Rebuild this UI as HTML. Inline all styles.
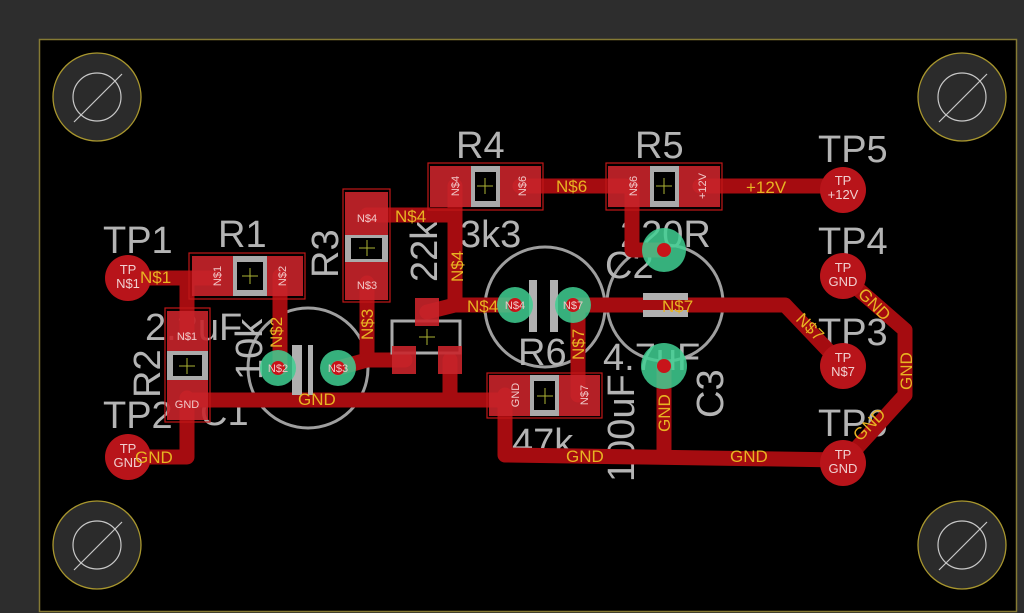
<!DOCTYPE html>
<html><head><meta charset="utf-8"><style>
html,body{margin:0;padding:0;background:#2d2d2d;width:1024px;height:613px;overflow:hidden}
svg{display:block}
.s{fill:#b4b4b4;font-family:"Liberation Sans",sans-serif;font-size:38px}
.n{fill:#e8b422;font-family:"Liberation Sans",sans-serif;font-size:17px}
.p{fill:#f0c8c8;font-family:"Liberation Sans",sans-serif;font-size:11px;text-anchor:middle}
.tp{fill:#f0d0d0;font-family:"Liberation Sans",sans-serif;font-size:13px;text-anchor:middle}
.tr{stroke:#a50c10;fill:none;stroke-linejoin:round;stroke-linecap:round}
.pad{fill:#c8242a;opacity:0.9}
.ol{fill:none;stroke:#c01818;stroke-width:1.2}
.ring{fill:#3fcf92;opacity:0.85}
</style></head><body>
<svg width="1024" height="613" viewBox="0 0 1024 613">
<rect x="0" y="0" width="1024" height="613" fill="#2d2d2d"/>
<rect x="39.5" y="39.5" width="977" height="572" fill="#000" stroke="#857a34" stroke-width="1.5"/>
<g stroke="#a8962e" stroke-width="1.3" fill="#2b2b2b">
<circle cx="97" cy="97" r="44"/><circle cx="962" cy="97" r="44"/><circle cx="97" cy="545" r="44"/><circle cx="962" cy="545" r="44"/></g>
<g stroke="#c8c8c8" stroke-width="1.2" fill="none">
<circle cx="97" cy="97" r="24"/><line x1="74" y1="122" x2="122" y2="74"/>
<circle cx="962" cy="97" r="24"/><line x1="939" y1="122" x2="987" y2="74"/>
<circle cx="97" cy="545" r="24"/><line x1="74" y1="570" x2="122" y2="522"/>
<circle cx="962" cy="545" r="24"/><line x1="939" y1="570" x2="987" y2="522"/>
</g>
<g stroke="#b0b0b0" stroke-width="3" fill="none" opacity="0.9">
<circle cx="308" cy="368" r="60"/><circle cx="545" cy="307" r="60"/><circle cx="665" cy="303" r="58"/>
</g>
<g class="s">
<text x="103" y="253">TP1</text><text x="218" y="247">R1</text>
<text x="103" y="428">TP2</text><text x="145" y="340">2.2uF</text>
<text x="200" y="425">C1</text>
<text transform="translate(338,278) rotate(-90)">R3</text>
<text transform="translate(437,282) rotate(-90)">22k</text>
<text transform="translate(160,398) rotate(-90)">R2</text>
<text transform="translate(262,380) rotate(-90)">10k</text>
<text x="456" y="158">R4</text><text x="460" y="247">3k3</text>
<text x="635" y="158">R5</text><text x="620" y="247">220R</text>
<text x="605" y="278">C2</text>
<text x="818" y="162">TP5</text><text x="818" y="254">TP4</text>
<text x="818" y="345">TP3</text><text x="818" y="436">TP6</text>
<text x="518" y="365">R6</text><text x="512" y="455">47k</text>
<text x="603" y="370">4.7uF</text>
<text transform="translate(634,482) rotate(-90)">100uF</text>
<text transform="translate(723,418) rotate(-90)">C3</text>
</g>
<g class="tr" stroke-width="15">
<polyline points="128,278 215,278"/>
<polyline points="187,278 187,330"/>
<polyline points="187,398 187,457 128,457"/>
<polyline points="187,400 505,400"/>
<polyline points="280,276 280,368"/>
<polyline points="367,283 367,360 338,368"/>
<polyline points="367,360 405,360"/>
<polyline points="367,215 455,215"/>
<polyline points="455,186 455,305 515,305"/>
<polyline points="427,312 455,305"/>
<polyline points="450,360 450,400"/>
<polyline points="520,186 625,186"/>
<polyline points="632,186 632,250 664,250"/>
<polyline points="700,186 843,186"/>
<polyline points="573,305 785,305 843,366"/>
<polyline points="578,305 578,395"/>
<polyline points="505,395 505,455 843,460"/>
<polyline points="664,366 664,455"/>
<polyline points="843,276 905,330 905,395 843,463"/>
</g>
<g>
<rect class="ol" x="189" y="253" width="116" height="46"/>
<rect class="pad" x="192" y="256" width="43" height="40"/><rect class="pad" x="265" y="256" width="38" height="40"/>
<rect x="233" y="256" width="34" height="40" fill="#aaa"/><rect x="237" y="262" width="26" height="28" fill="#000"/>
<rect class="ol" x="165" y="308" width="45" height="114"/>
<rect class="pad" x="167" y="311" width="41" height="40"/><rect class="pad" x="167" y="380" width="41" height="40"/>
<rect x="167" y="351" width="41" height="29" fill="#aaa"/><rect x="173" y="355" width="29" height="21" fill="#000"/>
<rect class="ol" x="343" y="189" width="47" height="113"/>
<rect class="pad" x="345" y="192" width="43" height="43"/><rect class="pad" x="345" y="262" width="43" height="38"/>
<rect x="345" y="235" width="43" height="27" fill="#aaa"/><rect x="351" y="238" width="31" height="21" fill="#000"/>
<rect class="ol" x="428" y="163" width="115" height="47"/>
<rect class="pad" x="430" y="166" width="41" height="41"/><rect class="pad" x="500" y="166" width="41" height="41"/>
<rect x="471" y="166" width="29" height="41" fill="#aaa"/><rect x="475" y="172" width="21" height="29" fill="#000"/>
<rect class="ol" x="606" y="163" width="116" height="47"/>
<rect class="pad" x="608" y="166" width="42" height="41"/><rect class="pad" x="679" y="166" width="41" height="41"/>
<rect x="650" y="166" width="29" height="41" fill="#aaa"/><rect x="654" y="172" width="21" height="29" fill="#000"/>
<rect class="ol" x="487" y="373" width="115" height="45"/>
<rect class="pad" x="489" y="375" width="41" height="41"/><rect class="pad" x="559" y="375" width="41" height="41"/>
<rect x="530" y="375" width="29" height="41" fill="#aaa"/><rect x="534" y="381" width="21" height="29" fill="#000"/>
<rect x="392" y="321" width="68" height="32" fill="none" stroke="#aaa" stroke-width="3"/>
<rect class="pad" x="415" y="298" width="24" height="28"/>
<rect class="pad" x="392" y="346" width="24" height="28"/><rect class="pad" x="438" y="346" width="24" height="28"/>
</g>
<g stroke="#d8e040" stroke-width="1" opacity="0.8">
<path d="M250 268v16M242 276h16M187 358v16M179 366h16M367 240v16M359 248h16M485 178v16M477 186h16M664 178v16M656 186h16M545 388v16M537 396h16M427 329v16M419 337h16"/>
</g>
<g fill="#b0b0b0">
<rect x="292" y="345" width="10" height="50"/><rect x="308" y="345" width="5" height="50"/>
<rect x="529" y="280" width="8" height="52"/><rect x="550" y="280" width="8" height="52"/>
<rect x="643" y="293" width="45" height="7"/><rect x="643" y="310" width="45" height="7"/>
</g>
<g>
<circle class="ring" cx="278" cy="368" r="18"/><circle class="ring" cx="338" cy="368" r="18"/>
<circle class="ring" cx="515" cy="305" r="18"/><circle class="ring" cx="573" cy="305" r="18"/>
<circle class="ring" cx="664" cy="250" r="22"/><circle class="ring" cx="664" cy="366" r="23"/>
<g fill="#c8141a"><circle cx="278" cy="368" r="7"/><circle cx="338" cy="368" r="7"/><circle cx="515" cy="305" r="7"/><circle cx="573" cy="305" r="7"/><circle cx="664" cy="250" r="7"/><circle cx="664" cy="366" r="7"/></g>
</g>
<g fill="#b8141a">
<circle cx="128" cy="278" r="23"/><circle cx="128" cy="457" r="23"/>
<circle cx="843" cy="190" r="23"/><circle cx="843" cy="276" r="23"/><circle cx="843" cy="366" r="23"/><circle cx="843" cy="463" r="23"/>
</g>
<g class="tp">
<text x="128" y="274">TP</text><text x="128" y="288">N$1</text>
<text x="128" y="453">TP</text><text x="128" y="467">GND</text>
<text x="843" y="185">TP</text><text x="843" y="199">+12V</text>
<text x="843" y="272">TP</text><text x="843" y="286">GND</text>
<text x="843" y="362">TP</text><text x="843" y="376">N$7</text>
<text x="843" y="459">TP</text><text x="843" y="473">GND</text>
</g>
<g class="p">
<text x="187" y="340">N$1</text><text x="187" y="408">GND</text>
<text x="367" y="222">N$4</text><text x="367" y="289">N$3</text>
<text transform="translate(221,276) rotate(-90)">N$1</text>
<text transform="translate(286,276) rotate(-90)">N$2</text>
<text transform="translate(459,186) rotate(-90)">N$4</text>
<text transform="translate(526,186) rotate(-90)">N$6</text>
<text transform="translate(637,186) rotate(-90)">N$6</text>
<text transform="translate(706,186) rotate(-90)">+12V</text>
<text transform="translate(519,395) rotate(-90)">GND</text>
<text transform="translate(588,395) rotate(-90)">N$7</text>
<text x="278" y="372">N$2</text><text x="338" y="372">N$3</text>
<text x="515" y="309">N$4</text><text x="573" y="309">N$7</text>
</g>
<g class="n">
<text x="140" y="283">N$1</text><text x="135" y="463">GND</text>
<text x="298" y="405">GND</text><text x="395" y="222">N$4</text>
<text x="467" y="312">N$4</text><text x="556" y="192">N$6</text>
<text x="746" y="193">+12V</text><text x="662" y="312">N$7</text>
<text x="566" y="462">GND</text><text x="730" y="462">GND</text>
<text transform="translate(282,348) rotate(-90)">N$2</text>
<text transform="translate(373,340) rotate(-90)">N$3</text>
<text transform="translate(463,282) rotate(-90)">N$4</text>
<text transform="translate(584,360) rotate(-90)">N$7</text>
<text transform="translate(670,432) rotate(-90)">GND</text>
<text transform="translate(795,320) rotate(45)">N$7</text>
<text transform="translate(857,295) rotate(45)">GND</text>
<text transform="translate(912,390) rotate(-90)">GND</text>
<text transform="translate(860,442) rotate(-45)">GND</text>
</g>
</svg>
</body></html>
